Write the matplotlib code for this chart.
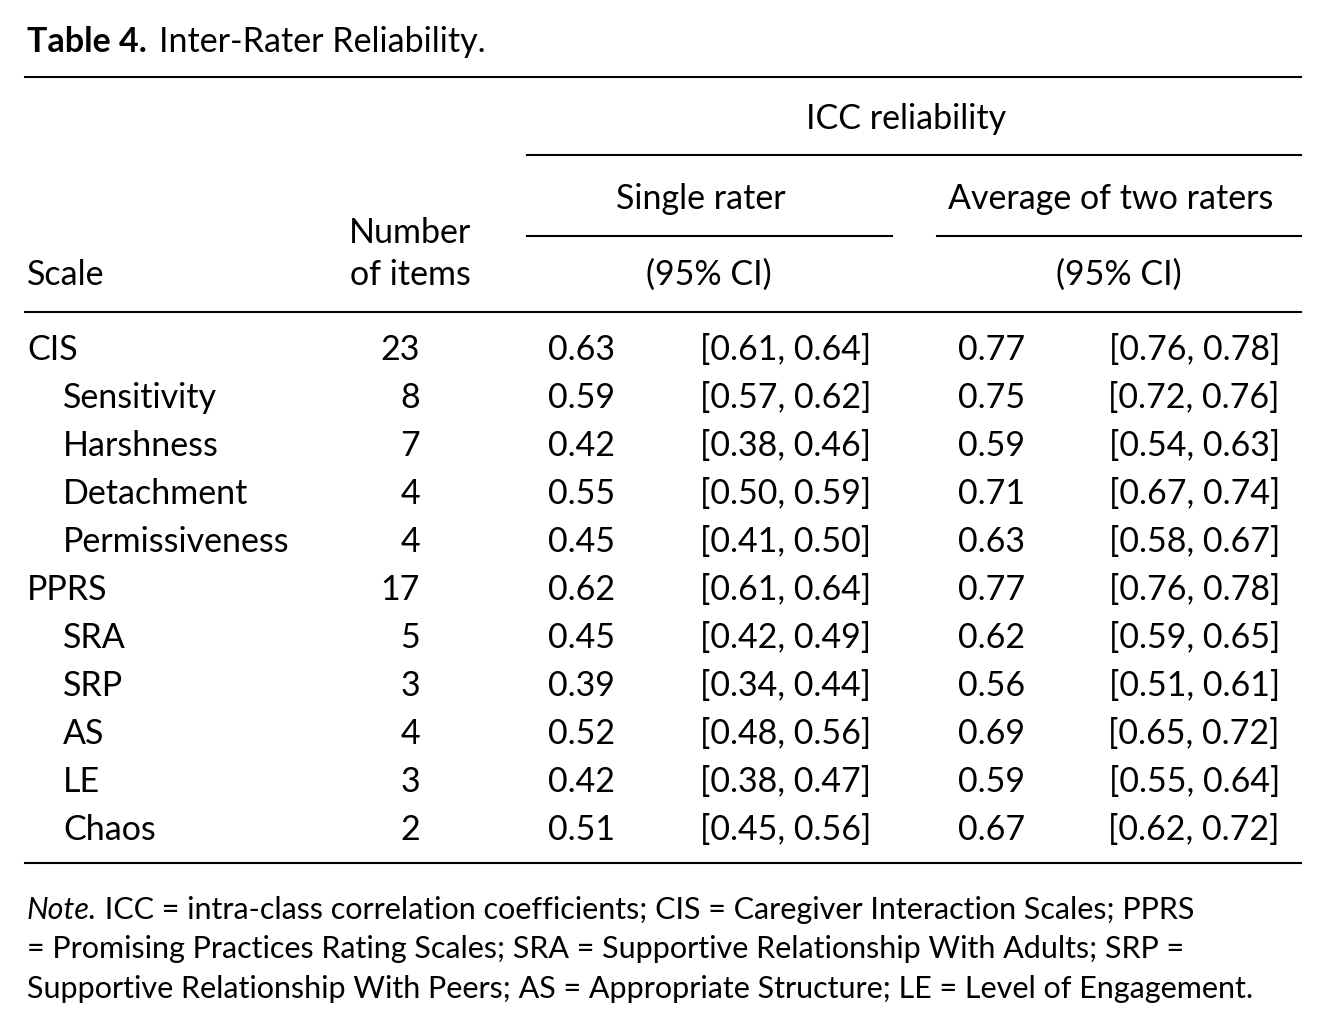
import matplotlib
matplotlib.use("Agg")
import matplotlib.pyplot as plt
from matplotlib.lines import Line2D

scales = ["CIS", "Sensitivity", "Harshness", "Detachment", "Permissiveness",
          "PPRS", "SRA", "SRP", "AS", "LE", "Chaos"]
indent = [0, 1, 1, 1, 1, 0, 1, 1, 1, 1, 1]
n_items = [23, 8, 7, 4, 4, 17, 5, 3, 4, 3, 2]
single = ["0.63", "0.59", "0.42", "0.55", "0.45", "0.62", "0.45", "0.39", "0.52", "0.42", "0.51"]
single_ci = ["[0.61, 0.64]", "[0.57, 0.62]", "[0.38, 0.46]", "[0.50, 0.59]", "[0.41, 0.50]",
             "[0.61, 0.64]", "[0.42, 0.49]", "[0.34, 0.44]", "[0.48, 0.56]", "[0.38, 0.47]",
             "[0.45, 0.56]"]
avg = ["0.77", "0.75", "0.59", "0.71", "0.63", "0.77", "0.62", "0.56", "0.69", "0.59", "0.67"]
avg_ci = ["[0.76, 0.78]", "[0.72, 0.76]", "[0.54, 0.63]", "[0.67, 0.74]", "[0.58, 0.67]",
          "[0.76, 0.78]", "[0.59, 0.65]", "[0.51, 0.61]", "[0.65, 0.72]", "[0.55, 0.64]",
          "[0.62, 0.72]"]
note_lines = [
    " ICC = intra-class correlation coefficients; CIS = Caregiver Interaction Scales; PPRS",
    "= Promising Practices Rating Scales; SRA = Supportive Relationship With Adults; SRP =",
    "Supportive Relationship With Peers; AS = Appropriate Structure; LE = Level of Engagement.",
]

W, H = 1327, 1030
plt.rcParams['font.family'] = ['Lato', 'DejaVu Sans']
fig = plt.figure(figsize=(W / 100, H / 100), dpi=100)
FS = 24.5
NFS = 22


def txt(x, y, s, ha='left', **kw):
    return fig.text(x / W, 1 - (y + 2) / H, s, ha=ha, va='center', fontsize=kw.pop('fs', FS), **kw)


def hline(y, x0, x1, lw=1.5):
    fig.add_artist(Line2D([x0 / W, x1 / W], [1 - y / H, 1 - y / H], color='black', lw=lw))


renderer = fig.canvas.get_renderer()

# title
t = txt(27, 40, "Table 4.", fontweight='bold')
bb = t.get_window_extent(renderer)
txt(bb.x1 + 12, 40, "Inter-Rater Reliability.")

hline(77, 25, 1301)
txt(906, 117, "ICC reliability", ha='center')
hline(155, 527, 1301)
txt(701, 197, "Single rater", ha='center')
txt(1111, 197, "Average of two raters", ha='center')
hline(236, 527, 892)
hline(236, 937, 1301)
txt(410, 231, "Number", ha='center')
txt(410, 273, "of items", ha='center')
txt(27, 273, "Scale")
txt(709, 273, "(95% CI)", ha='center')
txt(1119, 273, "(95% CI)", ha='center')
hline(312, 25, 1301)

for i, name in enumerate(scales):
    y = 348 + 48 * i
    txt(27 + 36 * indent[i], y, name)
    txt(420, y, str(n_items[i]), ha='right')
    txt(548, y, single[i])
    txt(871, y, single_ci[i], ha='right')
    txt(958, y, avg[i])
    txt(1280, y, avg_ci[i], ha='right')

hline(863, 25, 1301)

# note
nt = txt(27, 908, "Note.", fontstyle='italic', fs=NFS)
bb = nt.get_window_extent(renderer)
txt(bb.x1, 908, note_lines[0], fs=NFS)
txt(27, 947, note_lines[1], fs=NFS)
txt(27, 987, note_lines[2], fs=NFS)

fig.savefig("out.png", dpi=100)
